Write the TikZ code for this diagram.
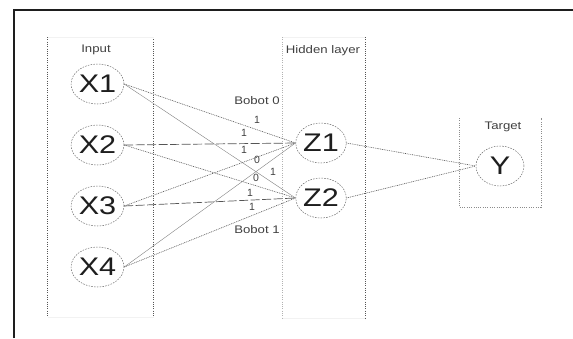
\documentclass[tikz,border=0pt]{standalone}
\usepackage{fontspec}
\usepackage{graphicx}
\setmainfont{Liberation Sans}
\usetikzlibrary{shapes.geometric}
\definecolor{ink}{HTML}{1E1E1E}
\definecolor{wire}{HTML}{555555}
\newcommand{\wtxt}[1]{\scalebox{1.2}[1]{#1}}
\tikzset{
  unit/.style={ellipse, draw=wire!85, line width=0.5pt, dash pattern=on 1.6pt off 1.2pt,
    minimum width=48pt, minimum height=40pt, inner sep=0pt, text=ink,
    font=\fontsize{25.5}{25.5}\selectfont},
  caption/.style={text=ink!85, font=\fontsize{11}{11}\selectfont, inner sep=0pt},
  weight/.style={text=ink!85, font=\fontsize{10.5}{10.5}\selectfont, inner sep=0pt},
  dotwire/.style={draw=wire, line width=0.6pt, dash pattern=on 0.9pt off 0.9pt},
  dashwire/.style={draw=wire, line width=0.7pt, dash pattern=on 9pt off 2.5pt},
  solidwire/.style={draw=wire!75, line width=0.4pt},
  colline/.style={draw=wire, line width=0.6pt, dash pattern=on 1pt off 1.3pt},
  faintline/.style={draw=black!5, line width=0.6pt},
}
\begin{document}
\begin{tikzpicture}[x=1pt,y=-1pt]
\useasboundingbox (0,0) rectangle (573,338);
% outer frame (left and top edges)
\draw[ink, line width=1.6pt] (14,338) -- (14,10) -- (573,10);

% layer columns
\draw[colline] (47.7,37) -- (47.7,317);
\draw[colline] (153.7,37) -- (153.7,317);
\draw[faintline] (47.7,37) -- (153.7,37);
\draw[faintline] (47.7,317) -- (153.7,317);
\draw[colline, draw=black!30] (282.7,37) -- (282.7,318);
\draw[colline] (365,37) -- (365,318);
\draw[faintline] (282.7,37) -- (365,37);
\draw[faintline] (282.7,318) -- (365,318);
\draw[colline, draw=black!45] (459,118) -- (459,207) -- (541,207) -- (541,118);

% column titles
\node[caption] (tin) at (96,50) {\wtxt{Input}};
\node[caption] (thid) at (323,51) {\wtxt{Hidden layer}};
\node[caption] (ttar) at (503,127) {\wtxt{Target}};

% units
\node[unit] (x1) at (97.5,84) {\wtxt{X1}};
\node[unit] (x2) at (97.5,145) {\wtxt{X2}};
\node[unit] (x3) at (97.5,206) {\wtxt{X3}};
\node[unit] (x4) at (97.5,267) {\wtxt{X4}};
\node[unit] (z1) at (321,143) {\wtxt{Z1}};
\node[unit] (z2) at (321,198) {\wtxt{Z2}};
\node[unit] (y) at (500,166) {\wtxt{Y}};

% input to hidden connections
\draw[dotwire] (x1.east) -- (z1.west);
\draw[solidwire] (x1.east) -- (z2.west);
\draw[dashwire] (x2.east) -- (z1.west);
\draw[dotwire] (x2.east) -- (z2.west);
\draw[dotwire] (x3.east) -- (z1.west);
\draw[dashwire] (x3.east) -- (z2.west);
\draw[solidwire] (x4.east) -- (z1.west);
\draw[dotwire] (x4.east) -- (z2.west);

% hidden to output connections
\draw[dotwire] (z1.east) -- (y.west);
\draw[dotwire] (z2.east) -- (y.west);

% weights
\node[caption] (b0) at (257,101) {\wtxt{Bobot 0}};
\node[caption] (b1) at (257,230) {\wtxt{Bobot 1}};
\node[weight] (w1) at (257,120) {1};
\node[weight] (w2) at (244,133) {1};
\node[weight] (w3) at (244,150) {1};
\node[weight] (w4) at (257,160) {0};
\node[weight] (w5) at (273,172) {1};
\node[weight] (w6) at (256,178) {0};
\node[weight] (w7) at (250,193) {1};
\node[weight] (w8) at (252,207) {1};
\end{tikzpicture}
\end{document}
